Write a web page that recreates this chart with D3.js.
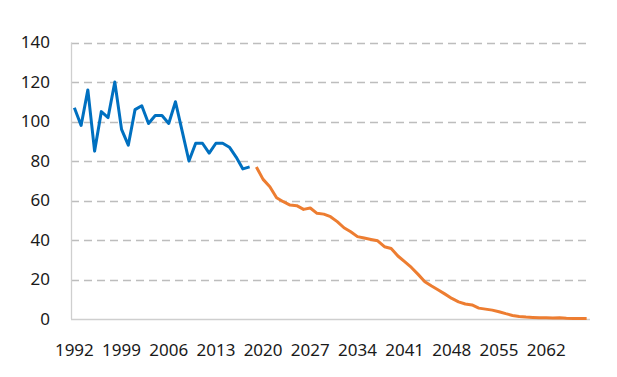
<!DOCTYPE html>
<html>
<head>
<meta charset="utf-8">
<script src="https://cdn.jsdelivr.net/npm/d3@7"></script>
<style>
    body { margin: 0; background: #fff; }
    svg { display: block; }
    text { font-family: "Noto Sans", "Open Sans", sans-serif; fill: #1a1a1a; }
</style>
</head>
<body>
<svg id="chart" width="617" height="377"></svg>
<script>
"use strict";

// categories: one per year
var years = d3.range(1992, 2069);

// observed series, 1992-2018
var observed = [107, 98, 116, 85, 105, 102, 120, 96, 88, 106,
                108, 99, 103, 103, 99, 110, 95, 80, 89, 89,
                84, 89, 89, 87, 82, 76, 77];

// projected series, 2019-2068
var projection = [77, 70.7, 67, 61.4, 59.4, 57.7, 57.4, 55.5, 56.2, 53.5,
                  53.1, 51.8, 49.3, 46.2, 44.2, 41.7, 41, 40.3, 39.6, 36.6,
                  35.7, 31.9, 29, 26.1, 22.6, 18.9, 16.7, 14.7, 12.6, 10.4,
                  8.7, 7.6, 7.1, 5.5, 5, 4.5, 3.7, 2.7, 1.8, 1.3,
                  1.0, 0.8, 0.6, 0.6, 0.5, 0.6, 0.4, 0.3, 0.3, 0.3];

var yTicks = [0, 20, 40, 60, 80, 100, 120, 140];
var xTickLabels = ["1992", "1999", "2006", "2013", "2020", "2027",
                   "2034", "2041", "2048", "2055", "2062"];

var svg = d3.select("#chart");

var x = d3.scaleBand()
    .domain(years)
    .range([71, 590])
    .padding(0);

var y = d3.scaleLinear()
    .domain([0, 140])
    .range([319, 42.5]);

function cx(year) {
    return x(year) + x.bandwidth() / 2;
}

// dashed gridlines (0 is drawn solid as the category axis)
svg.append("g")
  .selectAll("line")
  .data(yTicks.filter(function(d) { return d > 0; }))
  .join("line")
    .attr("x1", 71)
    .attr("x2", 590)
    .attr("y1", function(d) { return Math.round(y(d)) + 0.5; })
    .attr("y2", function(d) { return Math.round(y(d)) + 0.5; })
    .attr("stroke", "#bdbdbd")
    .attr("stroke-width", 1.3)
    .attr("stroke-dasharray", "8,5");

// value axis line and category axis line
svg.append("line")
    .attr("x1", 71.5).attr("x2", 71.5)
    .attr("y1", y(140)).attr("y2", y(0))
    .attr("stroke", "#cfcfcf")
    .attr("stroke-width", 1.3);
svg.append("line")
    .attr("x1", 71).attr("x2", 590)
    .attr("y1", Math.round(y(0)) + 0.5).attr("y2", Math.round(y(0)) + 0.5)
    .attr("stroke", "#cfcfcf")
    .attr("stroke-width", 1.3);

// y labels
svg.append("g")
  .selectAll("text")
  .data(yTicks)
  .join("text")
    .attr("x", 50)
    .attr("y", function(d) { return y(d); })
    .attr("dy", "0.35em")
    .attr("text-anchor", "end")
    .style("font-size", "17px")
    .text(function(d) { return d; });

// x labels, every seventh year
svg.append("g")
  .selectAll("text")
  .data(xTickLabels)
  .join("text")
    .attr("x", function(d) { return cx(+d); })
    .attr("y", 356)
    .attr("text-anchor", "middle")
    .style("font-size", "17px")
    .text(function(d) { return d; });

var line = d3.line()
    .x(function(d) { return cx(d.year); })
    .y(function(d) { return y(d.value); });

var obsData = observed.map(function(v, i) { return {year: years[i], value: v}; });
var projData = projection.map(function(v, i) {
    return {year: years[observed.length + i], value: v};
});

svg.append("path")
    .datum(obsData)
    .attr("d", line)
    .attr("fill", "none")
    .attr("stroke", "#0070c0")
    .attr("stroke-width", 3)
    .attr("stroke-linejoin", "round");

svg.append("path")
    .datum(projData)
    .attr("d", line)
    .attr("fill", "none")
    .attr("stroke", "#ed7d31")
    .attr("stroke-width", 3)
    .attr("stroke-linejoin", "round");
</script>
</body>
</html>
